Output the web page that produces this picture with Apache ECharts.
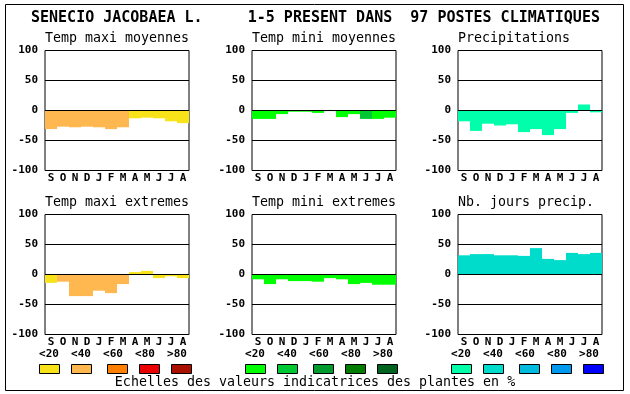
<!DOCTYPE html>
<html>
<head>
<meta charset="utf-8">
<script src="https://cdn.jsdelivr.net/npm/echarts@6/dist/echarts.min.js"></script>
<style>
html,body{margin:0;padding:0;background:#fff;}
#c{width:630px;height:394px;}
</style>
</head>
<body>
<div id="c"></div>
<script>
// ---- data ----
var months = ['S','O','N','D','J','F','M','A','M','J','J','A'];
var yTicks = [-100, -50, 0, 50, 100];
var titleText = 'SENECIO JACOBAEA L.     1-5 PRESENT DANS  97 POSTES CLIMATIQUES';
var panelTitles = ['Temp maxi moyennes','Temp mini moyennes','Precipitations',
                   'Temp maxi extremes','Temp mini extremes','Nb. jours precip.'];
var tempMaxiMoy   = [-31,-27,-28,-27,-28,-31,-28,-13,-12,-13,-18,-21];
var tempMiniMoy   = [-14,-14,-6,-2,-2,-4,-1,-11,-6,-14,-14,-12];
var precipitations= [-18,-34,-22,-25,-23,-36,-31,-41,-31,-4,10,-3];
var tempMaxiExt   = [-14,-12,-36,-36,-27,-31,-16,4,6,-6,-3,-6];
var tempMiniExt   = [-8,-16,-8,-11,-11,-12,-6,-8,-16,-14,-17,-17];
var nbJoursPrecip = [32,34,34,32,32,31,44,26,24,36,34,36];
// colour class (index into the panel's scale) per bar
var clsMaxiMoy  = [1,1,1,1,1,1,1,0,0,0,0,0];
var clsMiniMoy  = [0,0,0,0,0,0,0,0,0,1,0,0];
var clsPrecip   = [0,0,0,0,0,0,0,0,0,0,0,0];
var clsMaxiExt  = [0,1,1,1,1,1,1,0,0,0,0,0];
var clsMiniExt  = [0,0,0,0,0,0,0,0,0,0,0,0];
var clsJours    = [1,1,1,1,1,1,1,1,1,1,1,1];
var scaleLabels = ['<20','<40','<60','<80','>80'];
var footerText = 'Echelles des valeurs indicatrices des plantes en %';

// ---- styles ----
var warm  = ['#f8e31a','#ffb84f','#ff8000','#ea0000','#aa1000'];
var green = ['#00ff00','#00c832','#009a2e','#007d00','#006420'];
var blue  = ['#00ffaa','#00dccc','#00bbdd','#0099ee','#0000ff'];
var MONO = '"DejaVu Sans Mono", "Liberation Mono", monospace';

var panels = [
  {data: tempMaxiMoy,    cls: clsMaxiMoy, pal: warm,  left: 45,  top: 50.5},
  {data: tempMiniMoy,    cls: clsMiniMoy, pal: green, left: 252, top: 50.5},
  {data: precipitations, cls: clsPrecip,  pal: blue,  left: 458, top: 50.5},
  {data: tempMaxiExt,    cls: clsMaxiExt, pal: warm,  left: 45,  top: 214.5},
  {data: tempMiniExt,    cls: clsMiniExt, pal: green, left: 252, top: 214.5},
  {data: nbJoursPrecip,  cls: clsJours,   pal: blue,  left: 458, top: 214.5}
];

var grids = [], xAxes = [], yAxes = [], series = [], graphics = [];

panels.forEach(function(p, i){
  grids.push({left: p.left, top: p.top, width: 144, height: 120,
              show: true, borderColor: '#000', borderWidth: 1, backgroundColor: 'transparent'});
  xAxes.push({type: 'category', gridIndex: i, data: months,
              axisLine: {show: false, onZero: false}, axisTick: {show: false},
              axisLabel: {interval: 0, margin: 2, color: '#000',
                          fontFamily: MONO, fontWeight: 'bold', fontSize: 11}});
  yAxes.push({type: 'value', gridIndex: i, min: yTicks[0], max: yTicks[yTicks.length-1], interval: 50,
              axisLine: {show: false}, axisTick: {show: false},
              splitLine: {show: true, lineStyle: {color: '#000', width: 1}},
              axisLabel: {margin: 7, color: '#000', fontFamily: MONO, fontWeight: 'bold', fontSize: 11}});
  series.push({type: 'bar', xAxisIndex: i, yAxisIndex: i, barCategoryGap: '0%',
               data: p.data.map(function(v, k){
                 return {value: v, itemStyle: {color: p.pal[p.cls[k]]}};
               }),
               animation: false,
               markLine: {silent: true, symbol: 'none', label: {show: false}, animation: false,
                          lineStyle: {color: '#000', width: 1, type: 'solid'},
                          data: [{yAxis: 0}]}});
  graphics.push({type: 'text', x: p.left, y: p.top - 11.5,
                 style: {text: panelTitles[i], font: '13.3px ' + MONO, fill: '#000',
                         textAlign: 'left', textVerticalAlign: 'middle'}});
});

// title
graphics.push({type: 'text', x: 31, y: 18,
               style: {text: titleText, font: 'bold 15px ' + MONO, fill: '#000',
                       textAlign: 'left', textVerticalAlign: 'middle'}});
// legend scales
var legendGroups = [
  {pal: warm,  labelX: [49,81,113,145,177], swX: [39,71,107,139,171]},
  {pal: green, labelX: [255,287,319,351,383], swX: [245,277,313,345,377]},
  {pal: blue,  labelX: [461,493,525,557,589], swX: [451,483,519,551,583]}
];
legendGroups.forEach(function(g){
  scaleLabels.forEach(function(lab, k){
    graphics.push({type: 'text', x: g.labelX[k], y: 354,
                   style: {text: lab, font: 'bold 11px ' + MONO, fill: '#000',
                           textAlign: 'center', textVerticalAlign: 'middle'}});
    graphics.push({type: 'rect', shape: {x: g.swX[k] + 0.5, y: 364.5, width: 20, height: 9},
                   style: {fill: g.pal[k], stroke: '#000', lineWidth: 1}});
  });
});
// footer
graphics.push({type: 'text', x: 315, y: 382.5,
               style: {text: footerText, font: '13.3px ' + MONO, fill: '#000',
                       textAlign: 'center', textVerticalAlign: 'middle'}});
// outer frame
graphics.push({type: 'rect', shape: {x: 5.5, y: 4.5, width: 618, height: 386},
               style: {fill: 'none', stroke: '#000', lineWidth: 1}, z: 100});

var chart = echarts.init(document.getElementById('c'), null, {renderer: 'canvas'});
chart.setOption({
  animation: false,
  backgroundColor: '#fff',
  grid: grids, xAxis: xAxes, yAxis: yAxes, series: series, graphic: graphics
});
</script>
</body>
</html>
